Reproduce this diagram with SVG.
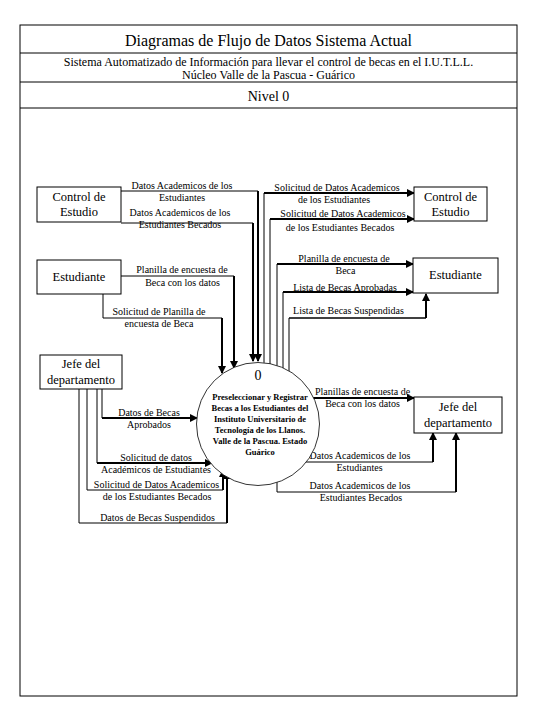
<svg xmlns="http://www.w3.org/2000/svg" width="540" height="720" viewBox="0 0 540 720">
<style>
text{font-family:'Liberation Serif','Times New Roman',serif;fill:#000}
.hd{font-size:16px;text-anchor:middle}
.sub{font-size:12px;text-anchor:middle}
.lb{font-size:10px;text-anchor:middle}
.bx{font-size:12.5px;text-anchor:middle}
.pc{font-size:8.5px;font-weight:bold;text-anchor:middle}
.box{fill:#fff;stroke:#000;stroke-width:1}
.t{fill:none;stroke:#000;stroke-width:1}
.k{fill:none;stroke:#000;stroke-width:2;marker-end:url(#ar)}
</style>
<defs>
<marker id="ar" markerUnits="userSpaceOnUse" markerWidth="8" markerHeight="8" refX="7" refY="4" orient="auto">
<path d="M0,0 L8,4 L0,8 z" fill="#000"/>
</marker>
</defs>
<rect width="540" height="720" fill="#fff"/>
<g id="frame">
<rect x="20" y="25" width="497" height="671" fill="none" stroke="#000" stroke-width="1"/>
<line x1="20" y1="53" x2="517" y2="53" stroke="#000"/>
<line x1="20" y1="82" x2="517" y2="82" stroke="#000"/>
<line x1="20" y1="108" x2="517" y2="108" stroke="#000"/>
<text class="hd" x="268.5" y="46">Diagramas de Flujo de Datos Sistema Actual</text>
<text class="sub" x="268.5" y="66">Sistema Automatizado de Información para llevar el control de becas en el I.U.T.L.L.</text>
<text class="sub" x="268.5" y="79">Núcleo Valle de la Pascua - Guárico</text>
<text x="268.5" y="101" style="font-size:14px;text-anchor:middle">Nivel 0</text>
</g>
<g id="connectors">
<path class="t" d="M121,191 H258"/><path class="k" d="M258,191 V361"/>
<path class="t" d="M121,223 H253"/><path class="k" d="M253,223 V361"/>
<path class="t" d="M264,363 V193"/><path class="k" d="M264,193 H414"/>
<path class="t" d="M270,364 V219"/><path class="k" d="M270,219 H414"/>
<path class="t" d="M277,366 V264"/><path class="k" d="M277,264 H413"/>
<path class="t" d="M283,368 V292"/><path class="k" d="M283,292 H413"/>
<path class="t" d="M289,371 V318"/><path class="t" d="M289,318 H426" style="stroke-width:1.5"/><path class="k" d="M426,318 V294"/>
<path class="t" d="M121,276 H234"/><path class="k" d="M234,276 V368"/>
<path class="t" d="M103,294 V318 H222"/><path class="k" d="M222,318 V373"/>
<path class="t" d="M102,389 V418"/><path class="k" d="M102,418 H197"/>
<path class="t" d="M97,389 V463"/><path class="k" d="M97,463 H212"/>
<path class="t" d="M87,389 V490 H223"/><path class="k" d="M223,490 V470"/>
<path class="t" d="M79,389 V523 H227"/><path class="k" d="M227,523 V472"/>
<path class="k" d="M313,398 H414"/>
<path class="t" d="M304,462 H433"/><path class="k" d="M433,462 V433"/>
<path class="t" d="M277,481 V492 H456"/><path class="k" d="M456,492 V433"/>
<text class="lb" x="182" y="189">Datos Academicos de los</text>
<text class="lb" x="182" y="201">Estudiantes</text>
<text class="lb" x="180" y="216">Datos Academicos de los</text>
<text class="lb" x="180" y="228">Estudiantes Becados</text>
<text class="lb" x="337" y="191">Solicitud de Datos Academicos</text>
<text class="lb" x="334" y="203">de los Estudiantes</text>
<text class="lb" x="343" y="217">Solicitud de Datos Academicos</text>
<text class="lb" x="340" y="231">de los Estudiantes Becados</text>
<text class="lb" x="182" y="273">Planilla de encuesta de</text>
<text class="lb" x="182.5" y="286">Beca con los datos</text>
<text class="lb" x="159" y="315">Solicitud de Planilla de</text>
<text class="lb" x="159" y="327">encuesta de Beca</text>
<text class="lb" x="344" y="262">Planilla de encuesta de</text>
<text class="lb" x="345.5" y="274">Beca</text>
<text class="lb" x="345" y="291">Lista de Becas Aprobadas</text>
<text class="lb" x="348.5" y="314">Lista de Becas Suspendidas</text>
<text class="lb" x="149" y="416">Datos de Becas</text>
<text class="lb" x="149" y="428">Aprobados</text>
<text class="lb" x="156" y="461">Solicitud de datos</text>
<text class="lb" x="156" y="473">Académicos de Estudiantes</text>
<text class="lb" x="156.5" y="488">Solicitud de Datos Academicos</text>
<text class="lb" x="157" y="500">de los Estudiantes Becados</text>
<text class="lb" x="157.5" y="521">Datos de Becas Suspendidos</text>
<text class="lb" x="362.5" y="395">Planillas de encuesta de</text>
<text class="lb" x="362.5" y="407">Beca con los datos</text>
<text class="lb" x="360" y="459">Datos Academicos de los</text>
<text class="lb" x="359.5" y="471">Estudiantes</text>
<text class="lb" x="360" y="489">Datos Academicos de los</text>
<text class="lb" x="361" y="501">Estudiantes Becados</text>
</g>
<g id="n-control-izq">
<rect class="box" x="37" y="187" width="84" height="35"/>
<text class="bx" x="79" y="201">Control de</text>
<text class="bx" x="79" y="216">Estudio</text>
</g>
<g id="n-control-der">
<rect class="box" x="414" y="187" width="73" height="34"/>
<text class="bx" x="450.5" y="201">Control de</text>
<text class="bx" x="450.5" y="216">Estudio</text>
</g>
<g id="n-estudiante-izq">
<rect class="box" x="37" y="260" width="84" height="34"/>
<text class="bx" x="79" y="281">Estudiante</text>
</g>
<g id="n-estudiante-der">
<rect class="box" x="413" y="258" width="85" height="35"/>
<text class="bx" x="455.5" y="279">Estudiante</text>
</g>
<g id="n-jefe-izq">
<rect class="box" x="40" y="355" width="82" height="34"/>
<text class="bx" x="81" y="368">Jefe del</text>
<text class="bx" x="81" y="384">departamento</text>
</g>
<g id="n-jefe-der">
<rect class="box" x="414" y="397" width="88" height="36"/>
<text class="bx" x="458" y="411">Jefe del</text>
<text class="bx" x="458" y="427">departamento</text>
</g>
<g id="p0">
<circle cx="258" cy="424" r="61.5" fill="#fff" stroke="#000" stroke-width="0.8"/>
<text x="258" y="380" style="font-size:14px;text-anchor:middle">0</text>
<text class="pc" x="260" y="400">Preseleccionar y Registrar</text>
<text class="pc" x="260" y="411">Becas a los Estudiantes del</text>
<text class="pc" x="260" y="422">Instituto Universitario de</text>
<text class="pc" x="260" y="433">Tecnología de los Llanos.</text>
<text class="pc" x="260" y="444">Valle de la Pascua. Estado</text>
<text class="pc" x="260" y="455">Guárico</text>
</g>
</svg>
